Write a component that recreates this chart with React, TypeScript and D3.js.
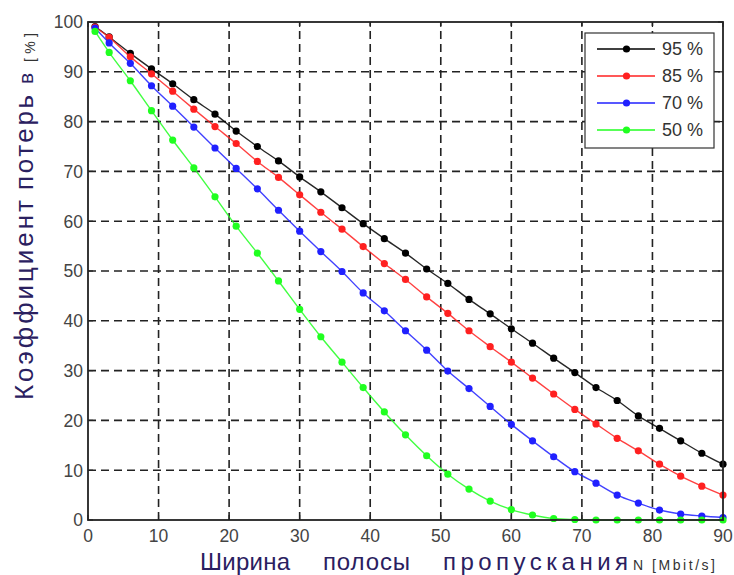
import React from 'react';
import * as d3 from 'd3';

const bandwidth = [1, 3, 6, 9, 12, 15, 18, 21, 24, 27, 30, 33, 36, 39, 42, 45, 48, 51, 54, 57, 60, 63, 66, 69, 72, 75, 78, 81, 84, 87, 90];
const loss95 = [99.1, 97.0, 93.7, 90.6, 87.6, 84.4, 81.5, 78.1, 75.0, 72.1, 68.9, 65.9, 62.7, 59.5, 56.5, 53.6, 50.4, 47.5, 44.3, 41.4, 38.4, 35.5, 32.5, 29.6, 26.6, 24.0, 20.9, 18.4, 15.9, 13.4, 11.2];
const loss85 = [99.0, 96.9, 93.0, 89.6, 86.1, 82.5, 79.0, 75.6, 72.0, 68.8, 65.3, 61.8, 58.4, 54.9, 51.5, 48.3, 44.8, 41.5, 38.0, 34.8, 31.7, 28.5, 25.3, 22.2, 19.3, 16.4, 13.9, 11.2, 8.8, 6.8, 5.0];
const loss70 = [98.8, 95.8, 91.7, 87.2, 83.1, 78.9, 74.7, 70.6, 66.5, 62.2, 58.0, 53.9, 49.9, 45.6, 42.0, 38.0, 34.1, 29.9, 26.4, 22.8, 19.2, 15.9, 12.7, 9.7, 7.4, 5.0, 3.4, 2.0, 1.2, 0.8, 0.5];
const loss50 = [98.1, 93.9, 88.2, 82.2, 76.3, 70.7, 64.9, 59.0, 53.6, 48.0, 42.3, 36.8, 31.7, 26.6, 21.7, 17.1, 12.9, 9.2, 6.2, 3.8, 2.1, 1.0, 0.3, 0.1, 0, 0, 0, 0, 0, 0, 0];
const seriesLabels = ['95 %', '85 %', '70 %', '50 %'];
const seriesColors = ['#000000', '#ff2020', '#2020ff', '#20ff20'];
const xTicks = [0, 10, 20, 30, 40, 50, 60, 70, 80, 90];
const yTicks = [0, 10, 20, 30, 40, 50, 60, 70, 80, 90, 100];

const FONT = "'Liberation Sans', Arial, sans-serif";
const TITLE_COLOR = '#2a2060';

export default function App() {
  const x = d3.scaleLinear().domain([0, 90]).range([88, 723]);
  const y = d3.scaleLinear().domain([0, 100]).range([520, 22]);
  const series = [loss95, loss85, loss70, loss50];
  const line = d3
    .line<number>()
    .x((_, i) => x(bandwidth[i]))
    .y((d) => y(d))
    .curve(d3.curveMonotoneX);

  const [x0, x1] = x.range();
  const [y0, y1] = y.range();

  const lg = { left: 585, top: 33, right: 714, bottom: 148 };
  const rowY = (i: number) => 49 + i * 27;

  return (
    <svg
      width={734}
      height={575}
      style={{ position: 'absolute', left: 0, top: 0, background: '#fff' }}
      fontFamily={FONT}
    >
      <rect x={0} y={0} width={734} height={575} fill="#fff" />
      {/* grid */}
      <g stroke="#222" strokeWidth={1.6} strokeDasharray="8,5">
        {xTicks
          .filter((t) => t > 0 && t < 90)
          .map((t) => (
            <line key={'gx' + t} x1={x(t)} x2={x(t)} y1={y0} y2={y1} />
          ))}
        {yTicks
          .filter((t) => t > 0 && t < 100)
          .map((t) => (
            <line key={'gy' + t} x1={x0} x2={x1} y1={y(t)} y2={y(t)} />
          ))}
      </g>
      {/* inner ticks */}
      <g stroke="#222" strokeWidth={1.2}>
        {xTicks.map((t) => (
          <g key={'tx' + t}>
            <line x1={x(t)} x2={x(t)} y1={y0} y2={y0 - 5} />
            <line x1={x(t)} x2={x(t)} y1={y1} y2={y1 + 5} />
          </g>
        ))}
        {yTicks.map((t) => (
          <g key={'ty' + t}>
            <line x1={x0} x2={x0 + 5} y1={y(t)} y2={y(t)} />
            <line x1={x1} x2={x1 - 5} y1={y(t)} y2={y(t)} />
          </g>
        ))}
      </g>
      {/* series */}
      {series.map((s, si) => (
        <g key={'s' + si}>
          <path d={line(s) || ''} fill="none" stroke={seriesColors[si]} strokeWidth={1.4} strokeOpacity={0.85} />
          {s.map((v, i) => (
            <circle key={i} cx={x(bandwidth[i])} cy={y(v)} r={3.6} fill={seriesColors[si]} />
          ))}
        </g>
      ))}
      {/* frame */}
      <rect x={x0} y={y1} width={x1 - x0} height={y0 - y1} fill="none" stroke="#222" strokeWidth={1.8} />
      {/* tick labels */}
      <g fill="#444" fontSize={17.5}>
        {yTicks.map((t) => (
          <text key={'ly' + t} x={x0 - 5} y={y(t)} dy="0.36em" textAnchor="end">
            {t}
          </text>
        ))}
        {xTicks.map((t) => (
          <text key={'lx' + t} x={x(t)} y={542} textAnchor="middle">
            {t}
          </text>
        ))}
      </g>
      {/* legend */}
      <rect x={lg.left} y={lg.top} width={lg.right - lg.left} height={lg.bottom - lg.top} fill="#fff" stroke="#333" strokeWidth={1.2} />
      {seriesLabels.map((lab, i) => (
        <g key={'lg' + i}>
          <line x1={597} x2={655} y1={rowY(i)} y2={rowY(i)} stroke={seriesColors[i]} strokeWidth={1.3} />
          <circle cx={626.5} cy={rowY(i)} r={3.6} fill={seriesColors[i]} />
          <text x={662} y={rowY(i)} dy="0.36em" fontSize={18} fill="#333">
            {lab}
          </text>
        </g>
      ))}
      {/* x title */}
      <g fill={TITLE_COLOR} fontSize={24}>
        <text x={200} y={570} textLength={90} lengthAdjust="spacing">Ширина</text>
        <text x={323} y={570} textLength={87} lengthAdjust="spacing">полосы</text>
        <text x={443} y={570} textLength={185} lengthAdjust="spacing">пропускания</text>
      </g>
      <text x={633} y={570} fontSize={14} fill="#333" textLength={82} lengthAdjust="spacing">
        N [Mbit/s]
      </text>
      {/* y title */}
      <g transform="translate(33,0) rotate(-90)">
        <g fill={TITLE_COLOR} fontSize={26}>
          <text x={-400} y={0} textLength={200} lengthAdjust="spacing">Коэффициент</text>
          <text x={-190} y={0} textLength={95} lengthAdjust="spacing">потерь</text>
        </g>
        <text x={-84} y={0} fontSize={21} fill={TITLE_COLOR}>в</text>
        <text x={-62} y={2} fontSize={14} fill="#333" textLength={29} lengthAdjust="spacing">[%]</text>
      </g>
    </svg>
  );
}
